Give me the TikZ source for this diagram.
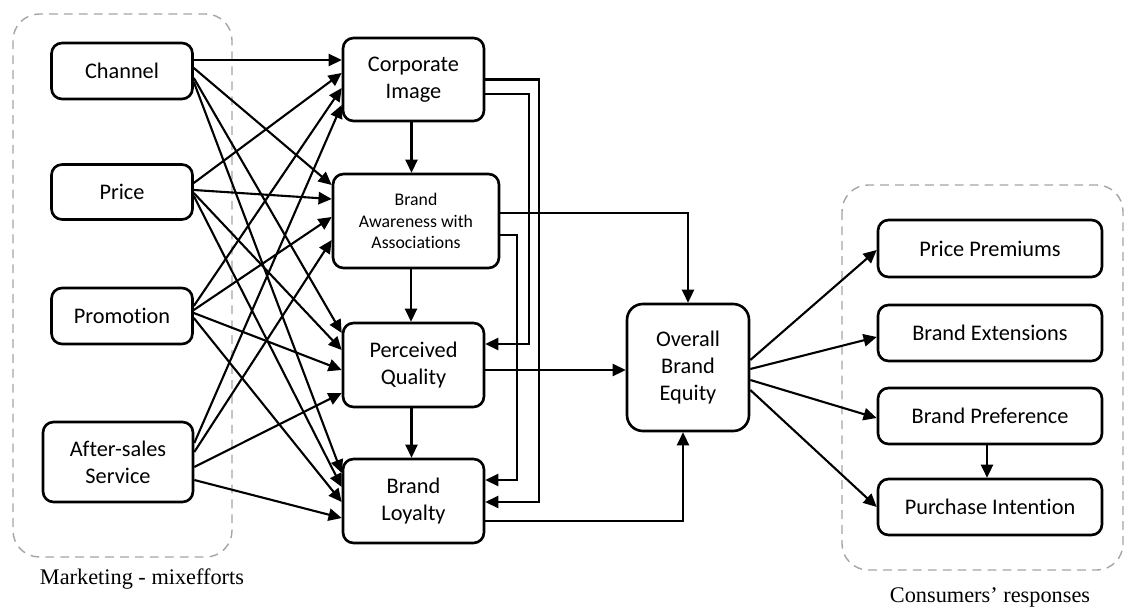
\documentclass[tikz,border=0pt]{standalone}
\usepackage{fontspec}
\setmainfont{Carlito}[Ligatures=NoCommon]
\newfontfamily\capfont{Liberation Serif}
\usetikzlibrary{arrows.meta,calc}
\definecolor{dashgray}{RGB}{165,165,165}

\begin{document}
\begin{tikzpicture}[x=0.02cm,y=-0.02cm,
    every node/.style={font=\fontsize{12.7}{15.4}\selectfont},
    box/.style={draw, line width=1.5pt, rounded corners=6pt, align=center, inner sep=0pt},
    arr/.style={-{Triangle[length=7.5pt,width=7pt]}, line width=1.2pt},
    group/.style={draw=dashgray, line width=0.8pt, dash pattern=on 5pt off 3.5pt, rounded corners=15pt}]
    \useasboundingbox (0,0) rectangle (1125,611);
    % -------------------------
    % Dashed groups
    % -------------------------
    \draw[group] (13,14) rectangle (232,557);
    \draw[group] (842,185) rectangle (1123,570);
    \node[font=\capfont\fontsize{12.7}{15}\selectfont] (mixcap) at (142,579) {Marketing - mixefforts};
    \node[font=\capfont\fontsize{12.7}{15}\selectfont] (respcap) at (990,597) {Consumers’ responses};

    % -------------------------
    % Marketing mix
    % -------------------------
    \node[box, minimum width=2.82cm, minimum height=1.12cm] (chan) at (122,71) {Channel};
    \node[box, minimum width=2.82cm, minimum height=1.10cm] (price) at (122,192) {Price};
    \node[box, minimum width=2.82cm, minimum height=1.12cm] (promo) at (122,316) {Promotion};
    \node[box, minimum width=3.00cm, minimum height=1.60cm] (after) at (118,462) {After-sales\\Service};

    % -------------------------
    % Brand equity dimensions
    % -------------------------
    \node[box, minimum width=2.82cm, minimum height=1.66cm] (corp) at (413.5,79.5) {Corporate\\Image};
    \node[box, minimum width=3.32cm, minimum height=1.88cm, font=\fontsize{10.1}{12.4}\selectfont] (aware) at (416,221) {Brand\\Awareness with\\Associations};
    \node[box, minimum width=2.82cm, minimum height=1.68cm] (qual) at (413.5,365) {Perceived\\Quality};
    \node[box, minimum width=2.82cm, minimum height=1.68cm] (loyal) at (413.5,501) {Brand\\Loyalty};
    \node[box, rounded corners=9pt, minimum width=2.44cm, minimum height=2.54cm] (obe) at (688,367.5) {Overall\\Brand\\Equity};

    % -------------------------
    % Consumers' responses
    % -------------------------
    \node[box, minimum width=4.48cm, minimum height=1.14cm] (prem) at (990,248.5) {Price Premiums};
    \node[box, minimum width=4.48cm, minimum height=1.12cm] (ext) at (990,333) {Brand Extensions};
    \node[box, minimum width=4.48cm, minimum height=1.12cm] (pref) at (990,416) {Brand Preference};
    \node[box, minimum width=4.48cm, minimum height=1.12cm] (purch) at (990,507) {Purchase Intention};

    % Channel
    \draw[arr] ($(chan.east)+(0,-11)$) -- ($(corp.west)+(0,-19.5)$);
    \draw[arr] ($(chan.east)+(0,-3)$) -- ($(aware.west)+(0,-36)$);
    \draw[arr] ($(chan.east)+(0,7)$) -- ($(qual.west)+(0,-32)$);
    \draw[arr] ($(chan.east)+(0,11)$) -- ($(loyal.west)+(0,-28)$);
    % Price
    \draw[arr] ($(price.east)+(0,-9)$) -- ($(corp.west)+(0,-6.5)$);
    \draw[arr] ($(price.east)+(0,-2)$) -- ($(aware.west)+(0,-22)$);
    \draw[arr] ($(price.east)+(0,1)$) -- ($(qual.west)+(0,-15)$);
    \draw[arr] ($(price.east)+(0,4)$) -- ($(loyal.west)+(0,-14)$);
    % Promotion
    \draw[arr] ($(promo.east)+(0,-10)$) -- ($(corp.west)+(0,8.5)$);
    \draw[arr] ($(promo.east)+(0,-6)$) -- ($(aware.west)+(0,-4)$);
    \draw[arr] ($(promo.east)+(0,-3)$) -- ($(qual.west)+(0,5)$);
    \draw[arr] ($(promo.east)+(0,2)$) -- ($(loyal.west)+(0,1)$);
    % After-sales service
    \draw[arr] ($(after.east)+(0,-19)$) -- ($(corp.west)+(0,25.5)$);
    \draw[arr] ($(after.east)+(0,-10)$) -- ($(aware.west)+(0,19)$);
    \draw[arr] ($(after.east)+(0,5)$) -- ($(qual.west)+(0,28)$);
    \draw[arr] ($(after.east)+(0,18)$) -- ($(loyal.west)+(0,17)$);

    % Down the middle column
    \draw[arr] ($(corp.south)+(-2,0)$) -- ($(corp.south |- aware.north)+(-2,0)$);
    \draw[arr] ($(aware.south)+(-5,0)$) -- ($(aware.south |- qual.north)+(-5,0)$);
    \draw[arr] ($(qual.south)+(-2,0)$) -- ($(qual.south |- loyal.north)+(-2,0)$);

    % Feedback lines on the right
    \draw[arr] (corp.east) -- ++(54,0) |- ($(loyal.east)+(0,1)$);
    \draw[arr] ($(corp.east)+(0,14.5)$) -- ++(44,0) |- ($(qual.east)+(0,-21)$);
    \draw[arr] ($(aware.east)+(0,14)$) -- ++(17,0) |- ($(loyal.east)+(0,-21)$);

    % Into overall brand equity
    \draw[arr] ($(aware.east)+(0,-8)$) -| (obe.north);
    \draw[arr] ($(qual.east)+(0,5)$) -- ($(qual.east -| obe.west)+(0,5)$);
    \draw[arr] ($(loyal.east)+(0,20)$) -| ($(obe.south)+(-5,0)$);

    % Out to consumers' responses
    \draw[arr] ($(obe.east)+(0,-7.5)$) -- ($(prem.west)+(0,1.5)$);
    \draw[arr] ($(obe.east)+(0,1.5)$) -- ($(ext.west)+(0,4)$);
    \draw[arr] ($(obe.east)+(0,12.5)$) -- ($(pref.west)+(0,2)$);
    \draw[arr] ($(obe.east)+(0,22.5)$) -- (purch.west);
    \draw[arr] ($(pref.south)+(-3,0)$) -- ($(pref.south |- purch.north)+(-3,0)$);

\end{tikzpicture}
\end{document}
